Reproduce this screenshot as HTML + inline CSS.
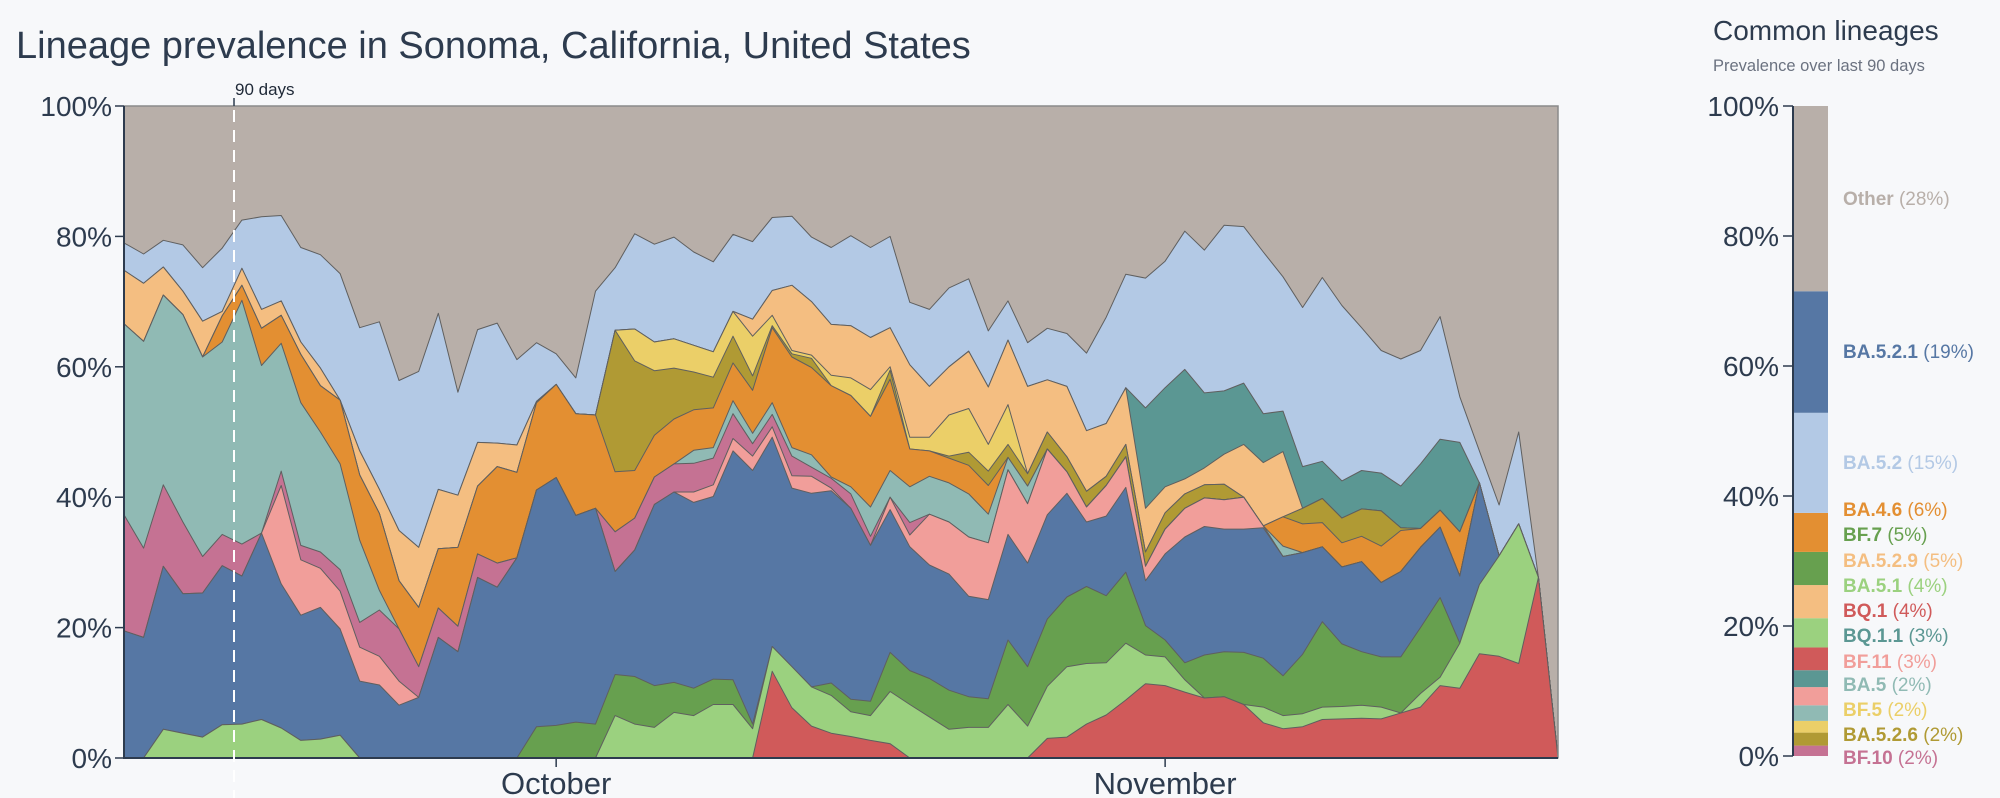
<!DOCTYPE html>
<html><head><meta charset="utf-8"><style>
html,body{margin:0;padding:0;background:#f7f8fa;}
svg{display:block;font-family:"Liberation Sans",sans-serif;}
</style></head><body>
<svg id="chart" width="2000" height="798" viewBox="0 0 2000 798">
<rect x="0" y="0" width="2000" height="798" fill="#f7f8fa"/>
<text x="16" y="58" font-size="38" fill="#2d3b4e">Lineage prevalence in Sonoma, California, United States</text>
<g id="areas"></g>
<g id="axes"></g>
<text x="1713" y="40" font-size="28" fill="#2d3b4e">Common lineages</text>
<text x="1713" y="71" font-size="16.5" fill="#6b7280">Prevalence over last 90 days</text>
<g id="legend"></g>
</svg>
<script>
const BQ1 = [0,0,0,0,0,0,0,0,0,0, 0,0,0,0,0,0,0,0,0,0, 0,0,0,0,0,0,0,0,0,0, 0,0,0,13.3,7.7,4.9,3.8,3.3,2.7,2.2, 0,0,0,0,0,0,0,3.0,3.2,5.2, 6.6,8.9,11.4,11.1,10.1,9.2,9.4,8.2,5.4,4.5, 4.8,5.9,6.0,6.1,6.0,6.9,7.8,11.1,10.7,16.0, 15.6,14.5,27.7,0];
const BA51 = [0,0,4.4,3.8,3.2,5.1,5.2,5.9,4.6,2.7, 2.9,3.5,0,0,0,0,0,0,0,0, 0,0,0,0,0,6.5,5.2,4.7,7.0,6.5, 8.2,8.2,4.5,3.8,6.3,6.0,5.8,3.8,3.8,8.0, 8.2,6.3,4.4,4.7,4.7,8.2,4.9,8.0,10.8,9.3, 8.0,8.7,4.4,4.4,1.9,0,0,0,2.4,2.0, 2.0,1.9,1.9,2.0,1.8,0,2.1,1.3,6.9,10.6, 15.4,21.4,0,0];
const BF7 = [0,0,0,0,0,0,0,0,0,0, 0,0,0,0,0,0,0,0,0,0, 0,4.8,5.0,5.5,5.2,6.3,7.3,6.4,4.6,4.2, 3.9,3.8,0.7,0,0,0,1.9,1.9,2.2,6.0, 5.2,5.9,6.0,4.7,4.4,9.9,9.1,10.3,10.7,11.8, 10.3,10.9,4.5,2.6,2.6,6.6,6.9,8.0,7.5,6.1, 9.1,13.1,9.6,8.2,7.7,8.6,10.1,12.2,0,0, 0,0,0,0];
const BA521 = [19.5,18.5,25.0,21.4,22.1,24.4,22.7,28.6,22.1,19.2, 20.2,16.3,11.8,11.2,8.1,9.3,18.5,16.3,27.7,26.2, 30.7,36.3,38.0,31.7,33.1,15.8,19.4,27.8,29.2,28.5, 28.0,35.1,38.9,32.1,27.4,29.7,29.5,29.3,23.9,21.9, 19.0,17.4,17.8,15.4,15.2,16.2,15.9,16.0,15.9,9.9, 12.2,13.0,6.9,13.2,19.3,19.7,18.8,18.9,20.0,18.3, 15.6,11.5,11.8,13.8,11.4,13.1,12.3,10.8,10.3,15.6, 0,0,0,0];
const BF11 = [0,0,0,0,0,0,0,0,15.1,8.5, 6.0,5.8,5.2,4.4,3.7,0,0,0,0,0, 0,0,0,0,0,0,0,0,0,1.6, 1.8,1.9,2.2,1.6,1.9,2.6,0.4,0,0,1.9, 1.8,7.8,8.0,9.1,8.7,9.9,9.1,10.1,3.3,2.3, 4.7,4.7,2.2,3.8,4.4,4.4,4.5,4.9,0.3,0, 0,0,0,0,0,0,0,0,0,0, 0,0,0,0];
const BF10 = [17.8,13.7,12.5,11.0,5.6,4.8,4.9,0,2.2,2.2, 2.5,3.3,3.8,7.1,8.0,4.7,4.5,3.9,3.6,3.7, 0,0,0,0,0,6.1,4.9,4.2,4.3,4.4, 4.1,3.8,1.9,1.9,3.0,1.4,1.5,2.2,1.4,0, 1.9,0,0,0,0,0,0,0,0,0, 0,0,0,0,0,0,0,0,0,0, 0,0,0,0,0,0,0,0,0,0, 0,0,0,0];
const BA5 = [29.3,31.7,29.1,31.8,30.6,29.5,37.4,25.7,19.6,21.9, 18.4,16.2,12.6,3.0,0,0,0,0,0,0, 0,0,0,0,0,0,0,0,0,2.0, 1.6,2.0,1.6,1.8,1.3,1.9,0.2,1.1,4.5,4.1, 5.5,5.8,6.0,6.6,4.4,1.9,2.7,0,0,0, 0,0,0,0,0,0,0,0,0,1.6, 0,0,0,0,0,0,0,0,0,0, 0,0,0,0];
const BA46 = [0,0,0,0,0,4.0,2.3,5.7,4.3,7.4, 7.1,9.8,10.0,11.8,7.4,9.1,9.1,12.1,10.4,14.8, 13.1,13.4,14.3,15.6,14.3,9.2,7.3,6.4,6.9,6.2, 6.1,5.8,6.6,11.5,13.9,13.4,14.0,14.0,13.9,14.0, 5.8,3.9,3.8,4.4,4.4,0,0,0,0,0, 0,0,0,0,0,0,0,0,0,4.5, 4.4,3.7,3.7,3.9,5.6,6.3,2.9,2.6,6.8,0, 0,0,0,0];
const BA526 = [0,0,0,0,0,0,0,0,0,0, 0,0,0,0,0,0,0,0,0,0, 0,0,0,0,0,21.7,16.8,9.9,7.8,5.8, 4.7,4.1,2.2,0.3,0.5,1.4,0,0,0,1.4, 0,0,0.3,2.0,2.2,2.0,1.9,2.6,2.3,2.4, 1.4,1.9,2.2,2.5,2.2,2.0,2.4,0,0,0, 2.4,3.7,3.8,4.2,5.4,0.4,0,0,0,0, 0,0,0,0];
const BF5 = [0,0,0,0,0,0,0,0,0,0, 0,0,0,0,0,0,0,0,0,0, 0,0,0,0,0,0,4.9,4.4,4.5,4.1, 3.9,3.8,6.1,1.6,0.5,0.5,1.6,2.7,4.1,0.5, 1.8,2.1,6.3,6.7,4.1,6.1,0,0,0,0, 0,0,0,0,0,0,0,0,0,0, 0,0,0,0,0,0,0,0,0,0, 0,0,0,0];
const BA529 = [8.2,8.9,4.3,3.6,5.5,0.7,2.6,2.9,2.2,1.9, 2.7,0,3.7,3.7,7.7,9.2,9.1,8.0,6.7,3.6, 4.2,0.2,0,0,0,0,0,0,0,0, 0,0,2.6,3.8,10.0,8.2,7.8,8.0,8.0,6.0, 11.1,7.8,7.4,8.8,8.8,9.9,13.4,8.0,10.8,9.3, 8.1,8.7,6.7,4.0,2.3,2.6,4.6,8.1,9.7,10.0, 0,0,0,0,0,0,0,0,0,0, 0,0,0,0];
const BQ11 = [0,0,0,0,0,0,0,0,0,0, 0,0,0,0,0,0,0,0,0,0, 0,0,0,0,0,0,0,0,0,0, 0,0,0,0,0,0,0,0,0,0, 0,0,0,0,0,0,0,0,0,0, 0,0,15.4,15.2,16.8,11.5,9.7,9.4,7.5,6.2, 6.4,5.7,5.7,5.9,5.8,6.4,9.9,10.9,13.7,0, 0,0,0,0];
const BA52 = [4.2,4.5,4.1,7.1,8.2,9.7,7.4,14.2,13.1,14.5, 17.4,19.4,18.9,25.7,23.0,27.0,27.0,15.8,17.3,18.4, 13.1,9.0,4.7,5.5,19.0,9.6,14.6,15.0,15.6,14.3, 13.8,11.8,11.9,11.2,10.6,9.9,11.8,13.8,13.8,14.0, 9.6,11.8,12.1,11.1,8.6,6.0,6.7,7.9,8.1,11.9, 16.3,17.4,19.9,19.4,21.2,21.9,25.4,24.0,24.8,20.6, 24.4,28.2,26.9,21.9,18.8,19.5,17.4,18.8,7.0,4.9, 7.8,14.1,0,0];
const yTicks = [0,20,40,60,80,100];
const monthLabels = ["October","November"];
const monthIdx = [22,53];
const ninetyIdx = 5.6;
const legendNames = ["Other","BA.5.2.1","BA.5.2","BA.4.6","BF.7","BA.5.2.9","BA.5.1","BQ.1","BQ.1.1","BF.11","BA.5","BF.5","BA.5.2.6","BF.10"];
const legendValues = [28.5,18.7,15.4,6.0,5.1,5.1,4.5,3.5,2.6,2.8,2.4,1.8,2.0,1.6];
const legendPct = ["28%","19%","15%","6%","5%","5%","4%","4%","3%","3%","2%","2%","2%","2%"];
const legendBarOrder = ["BF.10","BA.5.2.6","BF.5","BA.5","BF.11","BQ.1.1","BQ.1","BA.5.1","BA.5.2.9","BF.7","BA.4.6","BA.5.2","BA.5.2.1","Other"];

const colors = {"BQ.1":"#d05a5a","BA.5.1":"#9bd17f","BF.7":"#67a04f","BA.5.2.1":"#5677a4","BF.11":"#f19e9a","BF.10":"#c57293","BA.5":"#90bab4","BA.4.6":"#e38f32","BA.5.2.6":"#b09a34","BF.5":"#ebcf68","BA.5.2.9":"#f4be81","BQ.1.1":"#5b9793","BA.5.2":"#b3c9e5","Other":"#b8afa9"};
const stack = [["BQ.1",BQ1],["BA.5.1",BA51],["BF.7",BF7],["BA.5.2.1",BA521],["BF.11",BF11],["BF.10",BF10],["BA.5",BA5],["BA.4.6",BA46],["BA.5.2.6",BA526],["BF.5",BF5],["BA.5.2.9",BA529],["BQ.1.1",BQ11],["BA.5.2",BA52]];

const NS="http://www.w3.org/2000/svg";
const X0=124, X1=1558, Y0=758, Y1=106;
const N = BA52.length;
const xs = i => X0 + (X1-X0)*i/(N-1);
const ys = v => Y0 - (Y0-Y1)*v/100;
function mk(tag, attrs, parent){const e=document.createElementNS(NS,tag);for(const k in attrs)e.setAttribute(k,attrs[k]);parent.appendChild(e);return e;}

const areas=document.getElementById('areas');
let base=new Array(N).fill(0);
// Other as remainder layer: draw background first
const oth=mk('rect',{x:X0,y:Y1,width:X1-X0,height:Y0-Y1,fill:colors["Other"]},areas);


const layers=[];
stack.forEach(([name,vals])=>{
  const top=base.map((b,i)=>b+vals[i]);
  layers.push([name,base.slice(),top]);
  base=top;
});
for(let k=layers.length-1;k>=0;k--){
  const [name,lo,hi]=layers[k];
  // draw from 0 to top so stacking order paints correctly
  let d='M'+xs(0)+','+ys(0);
  for(let i=0;i<N;i++) d+='L'+xs(i).toFixed(1)+','+ys(hi[i]).toFixed(1);
  d+='L'+xs(N-1)+','+ys(0)+'Z';
  const p=mk('path',{d:d,fill:colors[name],stroke:'#5f5f5f','stroke-width':1,'stroke-linejoin':'round'},areas);
  
  
}

const ax=document.getElementById('axes');
let fr=mk('path',{d:`M${X0},${Y1}H${X1}V${Y0}`,fill:'none',stroke:'#8a8a8a','stroke-width':1.5},ax);


let la=mk('path',{d:`M${X0},${Y1}V${Y0}H${X1}`,fill:'none',stroke:'#2d3b4e','stroke-width':2},ax);


yTicks.forEach(t=>{
  const y=ys(t);
  const l=mk('line',{x1:X0-9,x2:X0,y1:y,y2:y,stroke:'#2d3b4e','stroke-width':1.5},ax);
  
  
  const tx=mk('text',{x:X0-12,y:y+10,'font-size':28,'text-anchor':'end',fill:'#2d3b4e'},ax);
  tx.textContent=t+'%';
  
  
});
monthLabels.forEach((m,j)=>{
  const x=xs(monthIdx[j]);
  const l=mk('line',{x1:x,x2:x,y1:Y0,y2:Y0+9,stroke:'#2d3b4e','stroke-width':1.5},ax);
  
  
  const tx=mk('text',{x:x,y:794,'font-size':31,'text-anchor':'middle',fill:'#2d3b4e'},ax);
  tx.textContent=m;
  
  
});
const nx=xs(ninetyIdx);
let dl=mk('line',{x1:nx,x2:nx,y1:Y1+4,y2:798,stroke:'#ffffff','stroke-width':2,'stroke-dasharray':'12,8'},ax);


let nt=mk('line',{x1:nx,x2:nx,y1:Y1-8,y2:Y1,stroke:'#2d3b4e','stroke-width':1.5},ax);


let nl=mk('text',{x:nx+1,y:95,'font-size':17,fill:'#1f2937'},ax);
nl.textContent='90 days';



// Legend
const lg=document.getElementById('legend');
const LX0=1793, LX1=1828, LY0=756, LY1=106;
const ly=v=>LY0-(LY0-LY1)*v/100;
let acc=0;
legendBarOrder.forEach(nm=>{
  const v=legendValues[legendNames.indexOf(nm)];
  const r=mk('rect',{x:LX0,y:ly(acc+v),width:LX1-LX0,height:ly(acc)-ly(acc+v),fill:colors[nm]},lg);
  
  
  acc+=v;
});
let lax=mk('line',{x1:LX0,x2:LX0,y1:LY1,y2:LY0,stroke:'#2d3b4e','stroke-width':2},lg);


yTicks.forEach(t=>{
  const y=ly(t);
  const l=mk('line',{x1:LX0-10,x2:LX0,y1:y,y2:y,stroke:'#2d3b4e','stroke-width':1.5},lg);
  
  
  const tx=mk('text',{x:LX0-14,y:y+10,'font-size':28,'text-anchor':'end',fill:'#2d3b4e'},lg);
  tx.textContent=t+'%';
  
  
});
const labelY=[198,351,462,509,534,560,585,610,635,661,684,709,734,757];
legendNames.forEach((nm,i)=>{
  const t=mk('text',{x:1843,y:labelY[i]+7,'font-size':19,fill:colors[nm]},lg);
  
  
  const a=mk('tspan',{'font-weight':'bold'},t); a.textContent=nm;
  const b=mk('tspan',{},t); b.textContent=' ('+legendPct[i]+')';
});
</script>
</body></html>
